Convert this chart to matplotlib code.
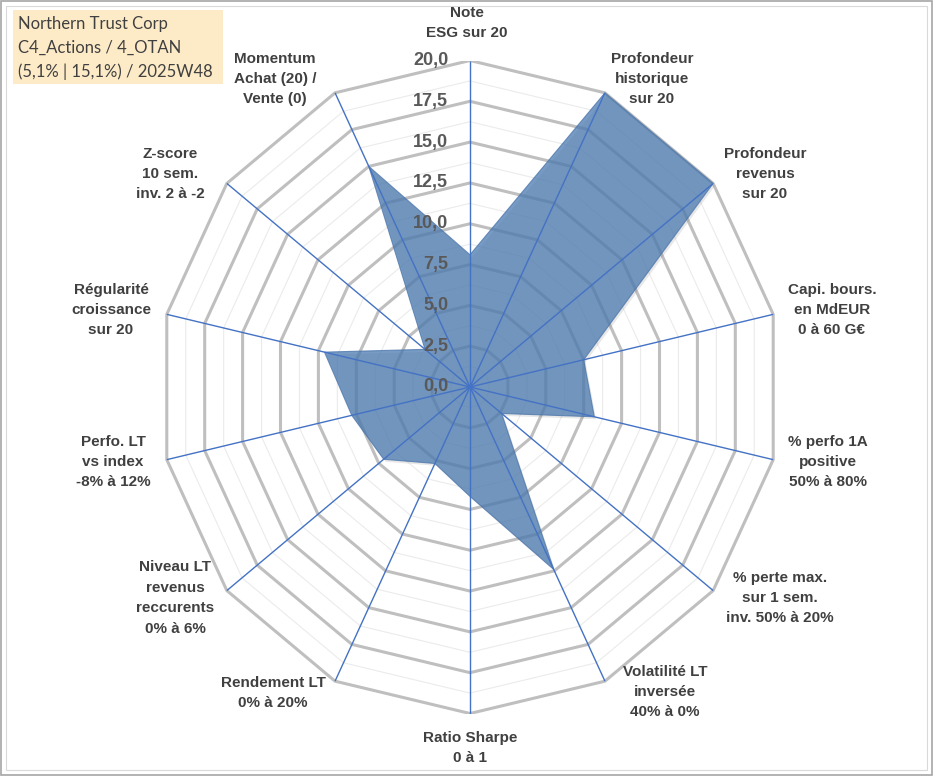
import numpy as np
import matplotlib
matplotlib.use("Agg")
import matplotlib.pyplot as plt
from matplotlib.patches import Polygon, Rectangle

# ---- data ----
categories = [
    "Note\nESG sur 20",
    "Profondeur\nhistorique\nsur 20",
    "Profondeur\nrevenus\nsur 20",
    "Capi. bours.\nen MdEUR\n0 à 60 G€",
    "% perfo 1A\npositive\n50% à 80%",
    "% perte max.\nsur 1 sem.\ninv. 50% à 20%",
    "Volatilité LT\ninversée\n40% à 0%",
    "Ratio Sharpe\n0 à 1",
    "Rendement LT\n0% à 20%",
    "Niveau LT\nrevenus\nreccurents\n0% à 6%",
    "Perfo. LT\nvs index\n-8% à 12%",
    "Régularité\ncroissance\nsur 20",
    "Z-score\n10 sem.\ninv. 2 à -2",
    "Momentum\nAchat (20) /\nVente (0)",
]
values = [8.1, 20.0, 20.0, 7.5, 8.2, 2.6, 12.4, 6.7, 5.2, 7.1, 7.8, 9.6, 3.7, 15.0]
tick_values = [0.0, 2.5, 5.0, 7.5, 10.0, 12.5, 15.0, 17.5, 20.0]
tick_labels = ["0,0", "2,5", "5,0", "7,5", "10,0", "12,5", "15,0", "17,5", "20,0"]
title_lines = ["Northern Trust Corp", "C4_Actions / 4_OTAN", "(5,1% | 15,1%) / 2025W48"]

# label anchor positions (pixels, centre of text block)
label_pos = [
    (467, 23), (652, 79), (765, 174), (832, 310), (828, 462), (780, 598),
    (665, 692), (470, 748), (273, 693), (175, 598), (113, 462), (111, 310),
    (170, 174), (275, 79),
]

W, H = 933, 776
fig = plt.figure(figsize=(W / 100, H / 100), dpi=100)
fig.patch.set_facecolor("white")

cx, cy, rx, ry = 470, 387, 311, 326.5
ax = fig.add_axes([(cx - rx) / W, (H - cy - ry) / H, 2 * rx / W, 2 * ry / H])
ax.set_xlim(-20, 20)
ax.set_ylim(-20, 20)
ax.axis("off")

n = len(categories)
theta = np.arange(n) * 2 * np.pi / n
sx, sy = np.sin(theta), np.cos(theta)

# minor gridlines
for r in np.arange(1.25, 20.01, 2.5):
    ax.add_patch(Polygon(np.column_stack([r * sx, r * sy]), closed=True, fill=False,
                         ec="#EBEBEB", lw=0.8, zorder=1))
# major gridlines
for r in tick_values[1:]:
    ax.add_patch(Polygon(np.column_stack([r * sx, r * sy]), closed=True, fill=False,
                         ec="#BFBFBF", lw=2.2, zorder=2, joinstyle="miter"))

v = np.array(values)
px, py = v * sx, v * sy
# shadow
ax.add_patch(Polygon(np.column_stack([px + 0.12, py - 0.15]), closed=True,
                     fc="#808080", ec="none", alpha=0.18, zorder=3))
ax.add_patch(Polygon(np.column_stack([px, py]), closed=True, fc="#4A7AB0",
                     alpha=0.75, ec="#4A74AA", lw=0.8, zorder=4))

# spokes
for i in range(n):
    ax.plot([0, 20 * sx[i]], [0, 20 * sy[i]], color="#4472C4", lw=1.0, zorder=5,
            solid_capstyle="butt")

# tick labels
for t, lab in zip(tick_values, tick_labels):
    ax.text(-1.4, t, lab, ha="right", va="center", fontsize=13,
            fontweight="bold", color="#595959", family="Liberation Sans", zorder=6)

# category labels
for lab, (x, y) in zip(categories, label_pos):
    fig.text(x / W, 1 - y / H, lab, ha="center", va="center", fontsize=11,
             fontweight="bold", color="#404040", family="Liberation Sans",
             linespacing=1.58)

# title box
fig.patches.append(Rectangle((13 / W, 1 - 84 / H), 210 / W, 74 / H,
                             transform=fig.transFigure, fc="#FDEBC8", ec="none"))
for k, line in enumerate(title_lines):
    fig.text(18 / W, 1 - (24 + 24 * k) / H, line, ha="left", va="center",
             fontsize=12, color="#404040", family="Lato")

# borders
fig.patches.append(Rectangle((1 / W, 1 / H), (W - 2) / W, (H - 2) / H,
                             transform=fig.transFigure, fill=False, ec="#A6A6A6", lw=1.2))
fig.patches.append(Rectangle((6 / W, 6 / H), (W - 12) / W, (H - 12) / H,
                             transform=fig.transFigure, fill=False, ec="#D9D9D9", lw=0.8))

fig.savefig("out.png", dpi=100)
